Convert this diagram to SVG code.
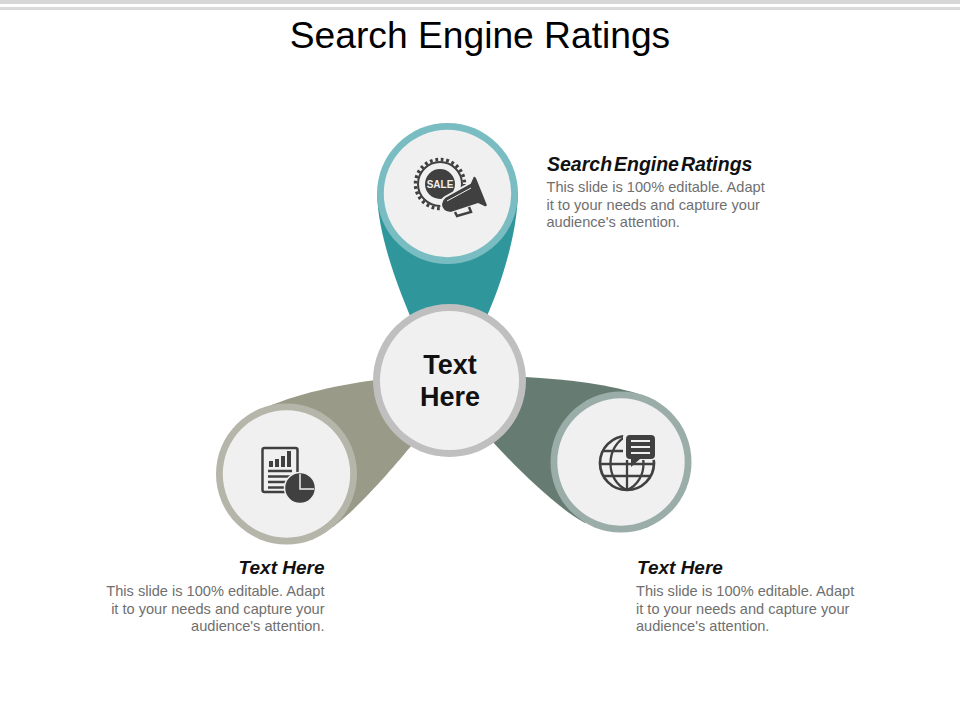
<svg xmlns="http://www.w3.org/2000/svg" width="960" height="720" viewBox="0 0 960 720">
<style>
text{font-family:"Liberation Sans",Arial,sans-serif}
.t{font-size:19px;font-weight:bold;font-style:italic;fill:#111}
.b{font-size:14.6px;fill:#6f6f6f}
.in{fill:#f0f0f1}
.ic{fill:#404040}
.il{fill:none;stroke:#404040}
</style>
<rect width="960" height="720" fill="#fff"/>
<rect y="0" width="960" height="4" fill="#d6d6d6"/>
<rect y="7" width="960" height="3" fill="#d9d9d9"/>
<text x="480" y="48" font-size="37.200" text-anchor="middle" fill="#000">Search Engine Ratings</text>
<g id="connectors">
<path d="M377 193C378 235 397 285 411 318L486 318C501 285 517 235 518 193Z" fill="#2f979b"/>
<path d="M260 410C295 394 340 384 385 379L412 445C395 465 362 505 333 527Z" fill="#9a9a88"/>
<path d="M525 377C565 379 610 384 645 396L585 523C560 510 520 472 492 441Z" fill="#667c73"/>
</g>
<g id="node-top">
<circle cx="447.500" cy="193.500" r="70.500" fill="#79bcc1"/><circle class="in" cx="447.500" cy="193.500" r="63.700"/>
<circle class="il" cx="440" cy="184" r="24.500" stroke-width="3.500" stroke-dasharray="2.750 2.750"/>
<circle class="il" cx="440" cy="184" r="22" stroke-width="2"/>
<circle class="ic" cx="440" cy="184" r="15"/>
<text x="440" y="187.500" font-size="10" font-weight="bold" text-anchor="middle" fill="#f0f0f1">SALE</text>
<path class="ic" stroke="#f0f0f1" stroke-width="2" d="M445 197L470 183L473 176Q476 175 477 178L488 205Q487 208 484 207L478 204L451 213Q441 212 441 204Q442 199 445 197Z"/>
<path fill="none" stroke="#f0f0f1" stroke-width="1" d="M447 201L471 188"/>
<path class="il" stroke-width="2.500" d="M455 212L457 216L471 212L469 207"/>
</g>
<g id="node-left">
<circle cx="286.500" cy="474" r="70.500" fill="#b5b5a9"/><circle class="in" cx="286.500" cy="474" r="63.700"/>
<rect class="il" x="262.500" y="448" width="35" height="44" rx="2" stroke-width="2.500"/>
<path class="ic" d="M269 461h4v6h-4zM275 459h4v8h-4zM281 456h4v11h-4zM287 451h4v16h-4z"/>
<path class="il" stroke-width="2.300" d="M268 471h24M268 476.500h24M268 482h20M268 487.500h16"/>
<circle class="ic" cx="300" cy="488" r="15.500" stroke="#f0f0f1" stroke-width="1.500"/>
<path fill="none" stroke="#f0f0f1" stroke-width="1.500" d="M300 474V489H314"/>
</g>
<g id="node-right">
<circle cx="621" cy="462" r="70.500" fill="#9bada8"/><circle class="in" cx="621" cy="462" r="63.700"/>
<circle class="il" cx="627" cy="463" r="27" stroke-width="2.700"/>
<path class="il" stroke-width="2.300" d="M627 436C605 446 605 481 627 490C649 481 649 446 627 436M627 436V490M603 451H651M600 464H654M604 476H650"/>
<rect x="623" y="433" width="34" height="27" rx="4" fill="#f0f0f1"/>
<path class="ic" d="M630 435H651Q655 435 655 439V455Q655 459 651 459H640L631 467V459H630Q626 459 626 455V439Q626 435 630 435Z"/>
<path fill="none" stroke="#f0f0f1" stroke-width="2" d="M631 441H650M631 447H650M631 453H650"/>
</g>
<g id="node-center">
<circle cx="449.500" cy="380.500" r="76.500" fill="#c0bfc0"/><circle class="in" cx="449.500" cy="380.500" r="69.500"/>
<text x="450" y="374" font-size="27" font-weight="bold" text-anchor="middle" fill="#111">Text</text>
<text x="450" y="406" font-size="27" font-weight="bold" text-anchor="middle" fill="#111">Here</text>
</g>
<g id="label-top">
<text class="t" x="547" y="170.500" style="font-size:19.500px;word-spacing:-3.500px">Search Engine Ratings</text>
<text class="b" x="546.500" y="192">This slide is 100% editable. Adapt</text>
<text class="b" x="546.500" y="210">it to your needs and capture your</text>
<text class="b" x="546.500" y="227">audience's attention.</text>
</g>
<g id="label-left" text-anchor="end">
<text class="t" x="324.500" y="574">Text Here</text>
<text class="b" x="324.500" y="596">This slide is 100% editable. Adapt</text>
<text class="b" x="324.500" y="614">it to your needs and capture your</text>
<text class="b" x="324.500" y="631">audience's attention.</text>
</g>
<g id="label-right">
<text class="t" x="637" y="574">Text Here</text>
<text class="b" x="636" y="596">This slide is 100% editable. Adapt</text>
<text class="b" x="636" y="614">it to your needs and capture your</text>
<text class="b" x="636" y="631">audience's attention.</text>
</g>
</svg>
